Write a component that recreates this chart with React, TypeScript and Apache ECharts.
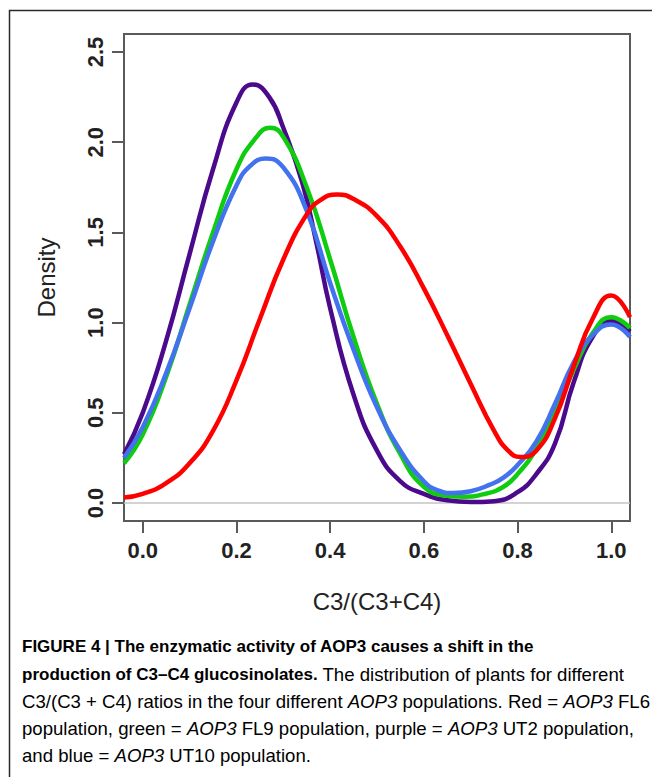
import React, { useEffect, useRef } from "react";
import * as echarts from "echarts";

// Red = AOP3 FL6
const redX = [-0.04, 0.0, 0.05, 0.1, 0.15, 0.2, 0.25, 0.3, 0.35, 0.38, 0.415, 0.45, 0.5, 0.55, 0.6, 0.65, 0.7, 0.75, 0.78, 0.806, 0.84, 0.88, 0.92, 0.96, 1.0, 1.04];
const redY = [0.03, 0.05, 0.11, 0.22, 0.40, 0.68, 1.02, 1.35, 1.60, 1.68, 1.71, 1.685, 1.59, 1.42, 1.19, 0.93, 0.66, 0.40, 0.29, 0.255, 0.29, 0.47, 0.76, 1.02, 1.15, 1.03];

// Green = AOP3 FL9
const greenX = [-0.04, 0.0, 0.05, 0.1, 0.15, 0.2, 0.24, 0.272, 0.3, 0.35, 0.4, 0.45, 0.5, 0.55, 0.6, 0.65, 0.685, 0.73, 0.77, 0.8, 0.84, 0.88, 0.92, 0.96, 1.0, 1.04];
const greenY = [0.22, 0.38, 0.70, 1.10, 1.50, 1.85, 2.02, 2.08, 2.03, 1.75, 1.35, 0.92, 0.55, 0.27, 0.09, 0.04, 0.035, 0.05, 0.09, 0.16, 0.30, 0.50, 0.74, 0.94, 1.03, 0.97];

// Purple = AOP3 UT2
const purpleX = [-0.04, 0.0, 0.05, 0.1, 0.15, 0.2, 0.235, 0.27, 0.3, 0.34, 0.37, 0.4, 0.45, 0.5, 0.55, 0.6, 0.65, 0.7, 0.75, 0.8, 0.84, 0.88, 0.92, 0.96, 1.0, 1.04];
const purpleY = [0.27, 0.50, 0.90, 1.38, 1.85, 2.22, 2.32, 2.25, 2.08, 1.78, 1.45, 1.08, 0.60, 0.29, 0.12, 0.05, 0.015, 0.005, 0.01, 0.06, 0.16, 0.33, 0.67, 0.92, 1.01, 0.95];

// Blue = AOP3 UT10
const blueX = [-0.04, 0.0, 0.05, 0.1, 0.15, 0.2, 0.23, 0.263, 0.3, 0.35, 0.4, 0.45, 0.5, 0.55, 0.6, 0.63, 0.663, 0.7, 0.74, 0.77, 0.8, 0.84, 0.88, 0.92, 0.96, 1.0, 1.04];
const blueY = [0.25, 0.42, 0.72, 1.08, 1.45, 1.76, 1.87, 1.91, 1.86, 1.62, 1.22, 0.85, 0.53, 0.29, 0.12, 0.07, 0.055, 0.065, 0.10, 0.14, 0.21, 0.34, 0.55, 0.78, 0.93, 0.99, 0.92];

const xTicks = [0, 0.2, 0.4, 0.6, 0.8, 1.0];
const yTicks = [0, 0.5, 1.0, 1.5, 2.0, 2.5];
const xTitle = "C3/(C3+C4)";
const yTitle = "Density";

const captionLines = [
  "{b|FIGURE 4 | The enzymatic activity of AOP3 causes a shift in the}",
  "{b|production of C3–C4 glucosinolates.}{r| The distribution of plants for different}",
  "{r|C3/(C3 + C4) ratios in the four different }{i|AOP3}{r| populations. Red = }{i|AOP3}{r| FL6}",
  "{r|population, green = }{i|AOP3}{r| FL9 population, purple = }{i|AOP3}{r| UT2 population,}",
  "{r|and blue = }{i|AOP3}{r| UT10 population.}",
];

const pairs = (xs: number[], ys: number[]) => xs.map((x, i) => [x, ys[i]]);

export default function App() {
  const ref = useRef<HTMLDivElement>(null);
  useEffect(() => {
    if (!ref.current) return;
    const chart = echarts.init(ref.current, null, { renderer: "svg" });
    const font = "'Liberation Sans', Arial, Helvetica, sans-serif";
    const lw = 4.5;
    const mk = (name: string, xs: number[], ys: number[], color: string, z: number) => ({
      name,
      type: "line",
      data: pairs(xs, ys),
      showSymbol: false,
      smooth: 0.5,
      z,
      lineStyle: { color, width: lw },
      itemStyle: { color },
      silent: true,
    });
    const rich = {
      b: { fontSize: 17, fontWeight: "bold", color: "#1e1e1e", fontFamily: font },
      r: { fontSize: 18.6, color: "#333", fontFamily: font },
      i: { fontSize: 18.6, fontStyle: "italic", color: "#333", fontFamily: font },
    };
    chart.setOption({
      animation: false,
      backgroundColor: "#ffffff",
      textStyle: { fontFamily: font },
      grid: {
        left: 124,
        top: 34,
        right: 22,
        bottom: 256,
        show: true,
        borderColor: "#5a5a5a",
        borderWidth: 2,
        backgroundColor: "transparent",
      },
      xAxis: {
        type: "value",
        min: -0.04,
        max: 1.04,
        axisLine: { show: false, onZero: false },
        splitLine: { show: false },
        axisTick: {
          show: true,
          inside: false,
          customValues: xTicks,
          length: 12,
          lineStyle: { color: "#5a5a5a", width: 2 },
        },
        axisLabel: {
          customValues: xTicks,
          formatter: (v: number) => v.toFixed(1),
          fontSize: 22,
          fontWeight: "bold",
          color: "#222",
          margin: 18,
        },
        name: xTitle,
        nameLocation: "middle",
        nameGap: 68,
        nameTextStyle: { fontSize: 24, color: "#222" },
      },
      yAxis: {
        type: "value",
        min: -0.1,
        max: 2.6,
        axisLine: { show: false, onZero: false },
        splitLine: { show: false },
        axisTick: {
          show: true,
          inside: false,
          customValues: yTicks,
          length: 12,
          lineStyle: { color: "#5a5a5a", width: 2 },
        },
        axisLabel: {
          customValues: yTicks,
          formatter: (v: number) => v.toFixed(1),
          fontSize: 22,
          fontWeight: "bold",
          color: "#222",
          rotate: 90,
          margin: 18,
        },
        name: yTitle,
        nameLocation: "middle",
        nameGap: 66,
        nameRotate: 90,
        nameTextStyle: { fontSize: 24, color: "#222" },
      },
      series: [
        {
          name: "zero",
          type: "line",
          data: [[-0.04, 0], [1.04, 0]],
          showSymbol: false,
          silent: true,
          z: 1,
          lineStyle: { color: "#c4c4c4", width: 1.5 },
        },
        mk("AOP3 UT2", purpleX, purpleY, "#4b0a8c", 2),
        mk("AOP3 FL9", greenX, greenY, "#0fcc0f", 3),
        mk("AOP3 UT10", blueX, blueY, "#4372ee", 4),
        mk("AOP3 FL6", redX, redY, "#ff0000", 5),
      ],
      graphic: [
        {
          type: "rect",
          shape: { x: 9.5, y: 10.5, width: 700, height: 800 },
          style: { fill: "none", stroke: "#2a2a2a", lineWidth: 1.5 },
          silent: true,
        },
        ...captionLines.map((t, i) => ({
          type: "text",
          left: 22,
          top: 638 + i * 27,
          style: { text: t, rich, fontFamily: font },
          silent: true,
        })),
      ],
    });
    return () => chart.dispose();
  }, []);
  return (
    <div
      ref={ref}
      style={{ position: "fixed", left: 0, top: 0, width: 652, height: 777, background: "#fff" }}
    />
  );
}
